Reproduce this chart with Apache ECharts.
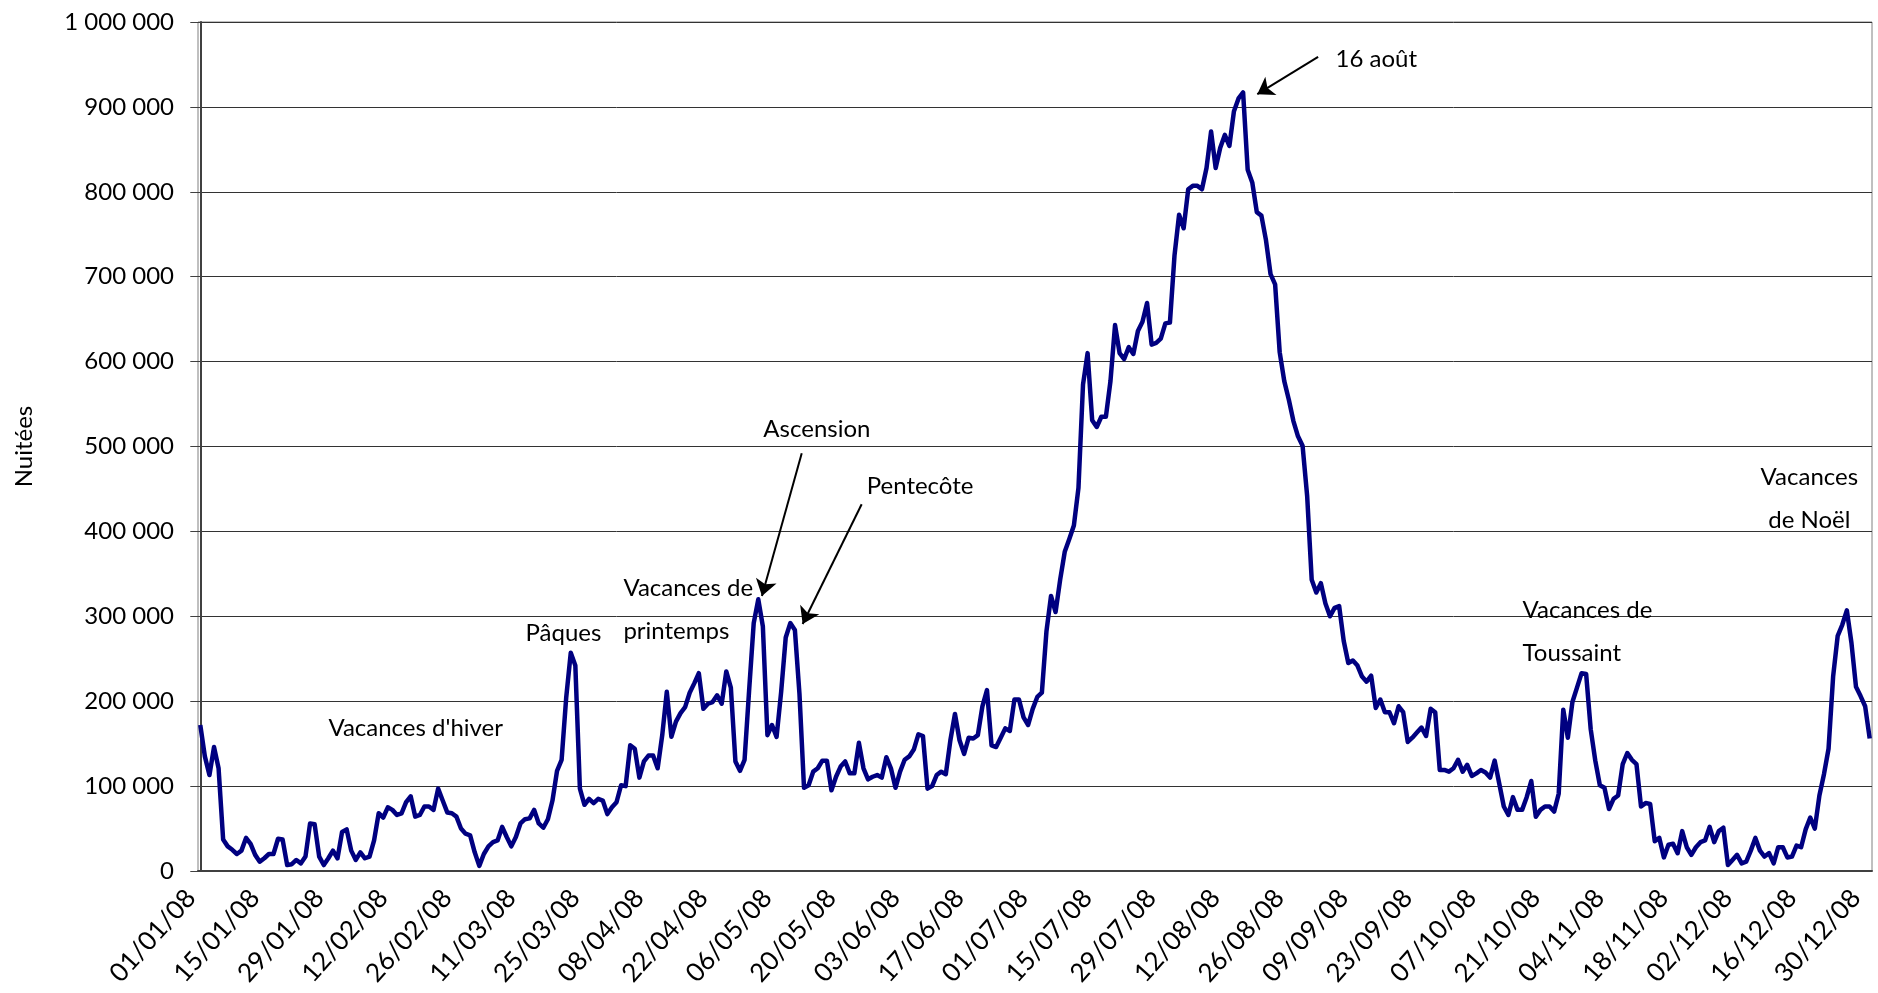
<!DOCTYPE html>
<html lang="fr">
<head>
<meta charset="utf-8">
<title>Nuitées 2008</title>
<script src="https://cdn.jsdelivr.net/npm/echarts@6/dist/echarts.min.js"></script>
<style>
  * { margin: 0; padding: 0; }
  html, body { background: #fff; }
  #chart { width: 1878px; height: 993px; }
</style>
</head>
<body>
<div id="chart"></div>
<script>
// nuitées par jour, en milliers
const janvier = [172,135,113,146,121,37,29,25,20,24,39,32,19,11,15,20,20,38,37,7,8,13,9,17,56,55,17,7,15,24,15];
const fevrier = [46,49,24,13,22,15,17,36,68,63,75,72,66,68,81,88,64,66,76,76,72,97,83,69,68,64,50,44,42];
const mars = [22,6,20,29,34,36,52,40,29,40,56,61,62,72,56,51,61,83,118,131,204,257,242,97,78,85,80,85,83,67,75];
const avril = [81,101,100,148,144,110,129,136,136,121,160,211,158,176,186,193,210,221,233,191,197,199,207,197,235,216,129,118,131,213];
const mai = [292,320,288,160,172,158,211,275,292,284,209,98,101,117,121,130,130,95,111,123,129,115,115,151,121,108,111,113,110,134,121];
const juin = [98,117,131,135,143,161,159,97,100,113,117,114,154,185,154,138,157,156,160,194,213,148,146,157,168,165,202,202,181,172];
const juillet = [191,205,210,282,324,305,343,376,391,407,451,573,610,531,523,535,535,577,643,610,603,617,609,636,647,669,620,622,627,645,646];
const aout = [725,773,757,803,807,807,803,828,871,828,852,867,854,895,910,917,826,811,776,772,743,703,691,611,577,555,530,512,501,442,343];
const septembre = [328,339,315,300,310,312,271,245,248,242,229,223,230,192,202,187,187,174,194,187,152,157,163,169,159,191,187,119,119,117];
const octobre = [121,131,117,125,112,115,119,116,110,130,103,76,66,87,72,72,87,106,64,72,76,76,70,91,190,157,199,216,233,232,167];
const novembre = [130,101,98,73,85,89,126,139,131,126,76,80,79,35,39,16,31,32,21,47,28,19,28,34,36,52,34,47,51,7];
const decembre = [13,19,9,11,24,39,24,17,21,9,28,28,16,17,30,28,49,63,50,89,114,144,229,277,290,307,269,217,206,194,156];

const nuitees = [].concat(janvier, fevrier, mars, avril, mai, juin, juillet, aout, septembre, octobre, novembre, decembre);

// libellés des jours 01/01/08 ... 31/12/08
const pad = n => (n < 10 ? '0' : '') + n;
const jours = [];
for (let d = 0; d < nuitees.length; d++) {
    const t = new Date(Date.UTC(2008, 0, 1 + d));
    jours.push(pad(t.getUTCDate()) + '/' + pad(t.getUTCMonth() + 1) + '/08');
}

// textes posés dans le repère (jour, milliers)
const textes = [
    { texte: '16 août', jour: 248.1, valeur: 956 },
    { texte: 'Ascension', jour: 123.0, valeur: 520 },
    { texte: 'Pentecôte', jour: 145.6, valeur: 453 },
    { texte: 'Vacances de\nprintemps', jour: 92.4, valeur: 308 },
    { texte: 'Pâques', jour: 71.0, valeur: 280 },
    { texte: "Vacances d'hiver", jour: 27.9, valeur: 168 },
    { texte: 'Vacances de\nToussaint', jour: 289.0, valeur: 282 },
    { texte: 'Vacances\nde Noël', jour: 351.8, valeur: 439, centre: true }
];
const fleches = [
    { de: [244.4, 959], vers: [231.1, 915] },
    { de: [131.5, 492], vers: [122.8, 324] },
    { de: [144.6, 432], vers: [131.7, 291] }
];

const police = 'Lato, "Open Sans", sans-serif';

function milliers(v) {
    if (v === 0) return '0';
    return String(v * 1000).replace(/\B(?=(\d{3})+(?!\d))/g, ' ');
}

const chart = echarts.init(document.getElementById('chart'), null, { renderer: 'canvas' });

const option = {
    animation: false,
    backgroundColor: '#fff',
    textStyle: { fontFamily: police },
    grid: { left: 198, right: 6, top: 22, bottom: 122, show: true, borderColor: '#808080', borderWidth: 1 },
    xAxis: [
        {
            type: 'category',
            data: jours,
            boundaryGap: true,
            axisLine: { lineStyle: { color: '#404040', width: 2 } },
            axisTick: { interval: 13, length: 9, lineStyle: { color: '#404040', width: 1 } },
            axisLabel: {
                interval: 13, rotate: 48, fontSize: 26, fontFamily: police, color: '#000',
                margin: 12, padding: [0, 14, 0, 0]
            },
            splitLine: { show: false }
        },
        { type: 'value', min: -0.5, max: 365.5, show: false }
    ],
    yAxis: {
        type: 'value',
        min: 0,
        max: 1000,
        interval: 100,
        name: 'Nuitées',
        nameLocation: 'middle',
        nameRotate: 90,
        nameGap: 162,
        nameTextStyle: { fontSize: 24, fontFamily: police, color: '#000' },
        axisLine: { show: true, lineStyle: { color: '#404040', width: 2 } },
        axisTick: { show: true, length: 10, lineStyle: { color: '#404040' } },
        axisLabel: { margin: 24, fontSize: 24, fontFamily: police, color: '#000', formatter: milliers },
        splitLine: { lineStyle: { color: '#333', width: 1 } }
    },
    series: [
        {
            name: 'Nuitées',
            type: 'line',
            data: nuitees,
            showSymbol: false,
            silent: true,
            lineStyle: { color: '#000080', width: 4.5, join: 'round' },
            itemStyle: { color: '#000080' }
        },
        {
            type: 'line',
            xAxisIndex: 1,
            data: [],
            silent: true,
            markPoint: {
                symbol: 'circle',
                symbolSize: 1,
                silent: true,
                itemStyle: { color: 'rgba(0,0,0,0)' },
                label: { show: true, color: '#000', fontSize: 24, fontFamily: police, lineHeight: 43 },
                data: textes.map(a => ({
                    coord: [a.jour, a.valeur],
                    label: { formatter: a.texte, position: a.centre ? 'inside' : 'right', distance: 0 }
                }))
            },
            markLine: {
                symbol: ['none', 'arrow'],
                symbolSize: 16,
                silent: true,
                lineStyle: { color: '#000', width: 2, type: 'solid' },
                label: { show: false },
                data: fleches.map(f => [{ coord: f.de }, { coord: f.vers }])
            }
        }
    ]
};

chart.setOption(option);
window.addEventListener('resize', () => chart.resize());
</script>
</body>
</html>
